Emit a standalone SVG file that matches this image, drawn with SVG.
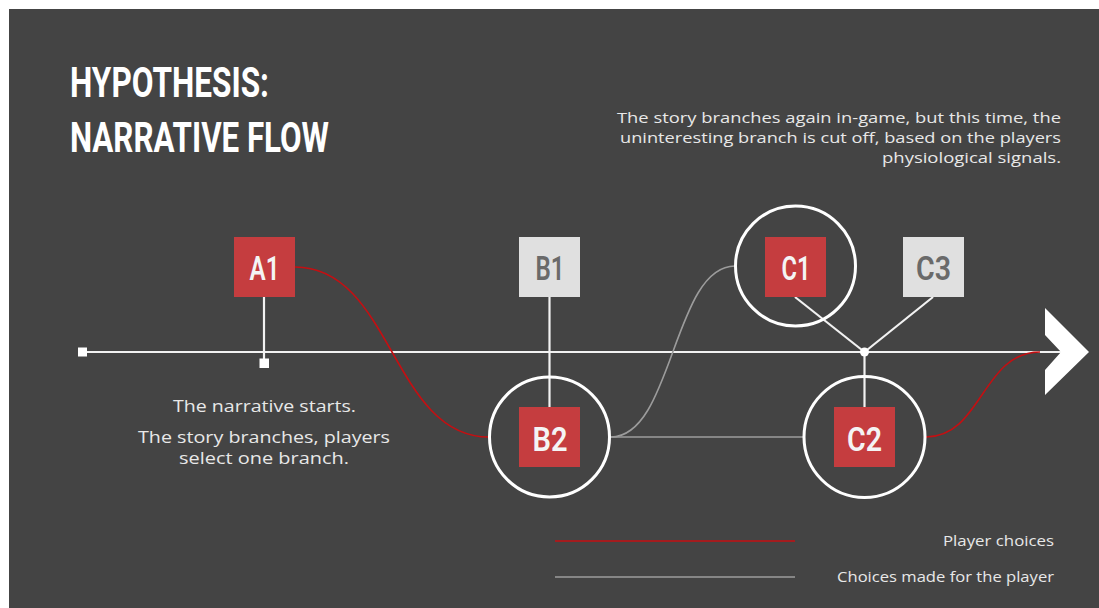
<svg xmlns="http://www.w3.org/2000/svg" width="1099" height="608" viewBox="0 0 1099 608">
  <style>
    .title { font-family: Roboto, "Liberation Sans", sans-serif; font-weight: 700; font-size: 42px; fill: #ffffff; }
    .body { font-family: "Open Sans", "Noto Sans", sans-serif; font-size: 16.5px; fill: #e8e8e8; }
    .body-tight { font-family: "Open Sans", "Noto Sans", sans-serif; font-size: 15px; fill: #e8e8e8; }
    .legend { font-family: "Open Sans", "Noto Sans", sans-serif; font-size: 15px; fill: #e8e8e8; }
    .box-red { fill: #c53d3f; }
    .box-grey { fill: #e0e0e0; }
    .lbl { font-family: Roboto, "Liberation Sans", sans-serif; font-weight: 600; font-size: 33px; text-anchor: middle; }
    .lbl-red { fill: #f4f4f4; }
    .lbl-grey { fill: #6a6a6a; }
    .ring { fill: none; stroke: #ffffff; stroke-width: 3; }
    .stem { stroke: #f2f2f2; stroke-width: 2.2; fill: none; }
    .player { fill: none; stroke: #c40f12; stroke-width: 1.6; }
    .auto { fill: none; stroke: #9c9c9c; stroke-width: 1.6; }
  </style>

  <!-- backdrop -->
  <rect x="0" y="0" width="1099" height="608" fill="#ffffff"/>
  <rect x="9" y="9" width="1090" height="599" fill="#444444"/>

  <!-- heading -->
  <text class="title" x="70" y="97" textLength="199" lengthAdjust="spacingAndGlyphs">HYPOTHESIS:</text>
  <text class="title" x="70" y="152" textLength="259" lengthAdjust="spacingAndGlyphs">NARRATIVE FLOW</text>

  <!-- explanatory copy -->
  <g id="note-top" text-anchor="end">
    <text class="body-tight" x="1061" y="123" textLength="444" lengthAdjust="spacingAndGlyphs">The story branches again in-game, but this time, the</text>
    <text class="body-tight" x="1061" y="143" textLength="441" lengthAdjust="spacingAndGlyphs">uninteresting branch is cut off, based on the players</text>
    <text class="body-tight" x="1061" y="163" textLength="179" lengthAdjust="spacingAndGlyphs">physiological signals.</text>
  </g>
  <g id="note-left" text-anchor="middle">
    <text class="body" x="264.5" y="412" textLength="183" lengthAdjust="spacingAndGlyphs">The narrative starts.</text>
    <text class="body" x="264" y="443" textLength="252" lengthAdjust="spacingAndGlyphs">The story branches, players</text>
    <text class="body" x="264" y="464" textLength="170" lengthAdjust="spacingAndGlyphs">select one branch.</text>
  </g>

  <!-- connectors -->
  <g id="connectors">
    <!-- timeline -->
    <line class="stem" x1="83" y1="352" x2="1062" y2="352" stroke-width="2.6"/>
    <rect x="78" y="347.5" width="9" height="9" fill="#ffffff"/>
    <polygon points="1045,308 1089,352 1045,395 1045,370 1061,352 1045,335" fill="#ffffff"/>
    <!-- stems -->
    <line class="stem" x1="264" y1="297" x2="264" y2="360"/>
    <rect x="259.5" y="358.5" width="9.5" height="9.5" fill="#ffffff"/>
    <line class="stem" x1="549.5" y1="297" x2="549.5" y2="407"/>
    <line class="stem" x1="795" y1="297" x2="864.5" y2="352"/>
    <line class="stem" x1="933" y1="297" x2="864.5" y2="352"/>
    <line class="stem" x1="864.5" y1="352" x2="864.5" y2="407"/>
    <circle cx="864.5" cy="352" r="4.5" fill="#ffffff"/>
    <!-- branches chosen by the player -->
    <path class="player" d="M295,267 C392,267 392,437 489,437"/>
    <path class="player" d="M926,437 C982,437 982,352 1040,352"/>
    <!-- branches decided for the player -->
    <path class="auto" d="M611,437 C673,437 673,266 735,266"/>
    <line class="auto" x1="611" y1="437" x2="803" y2="437"/>
  </g>

  <!-- nodes -->
  <g id="node-a1">
    <rect class="box-red" x="234" y="237" width="61" height="60"/>
    <text class="lbl lbl-red" x="264.5" y="280" textLength="30" lengthAdjust="spacingAndGlyphs">A1</text>
  </g>
  <g id="node-b1">
    <rect class="box-grey" x="519" y="237" width="61" height="60"/>
    <text class="lbl lbl-grey" x="550" y="280" textLength="29" lengthAdjust="spacingAndGlyphs">B1</text>
  </g>
  <g id="node-b2">
    <circle class="ring" cx="549.5" cy="437" r="60"/>
    <rect class="box-red" x="519" y="407" width="61" height="60"/>
    <text class="lbl lbl-red" x="550" y="450.5" textLength="35" lengthAdjust="spacingAndGlyphs">B2</text>
  </g>
  <g id="node-c1">
    <circle class="ring" cx="795.5" cy="266" r="60"/>
    <rect class="box-red" x="765" y="237" width="61" height="60"/>
    <text class="lbl lbl-red" x="796" y="280" textLength="29" lengthAdjust="spacingAndGlyphs">C1</text>
  </g>
  <g id="node-c3">
    <rect class="box-grey" x="903" y="237" width="61" height="60"/>
    <text class="lbl lbl-grey" x="933.5" y="280" textLength="35" lengthAdjust="spacingAndGlyphs">C3</text>
  </g>
  <g id="node-c2">
    <circle class="ring" cx="864.5" cy="437" r="60.5"/>
    <rect class="box-red" x="834" y="407" width="61" height="60"/>
    <text class="lbl lbl-red" x="864.5" y="450.5" textLength="35" lengthAdjust="spacingAndGlyphs">C2</text>
  </g>

  <!-- legend -->
  <g id="legend">
    <line class="player" x1="555" y1="541" x2="795" y2="541" stroke-width="1.4"/>
    <line class="auto" x1="555" y1="577" x2="795" y2="577" stroke-width="1.4"/>
    <text class="legend" x="1054" y="546" text-anchor="end" textLength="111" lengthAdjust="spacingAndGlyphs">Player choices</text>
    <text class="legend" x="1054" y="582" text-anchor="end" textLength="217" lengthAdjust="spacingAndGlyphs">Choices made for the player</text>
  </g>
</svg>
